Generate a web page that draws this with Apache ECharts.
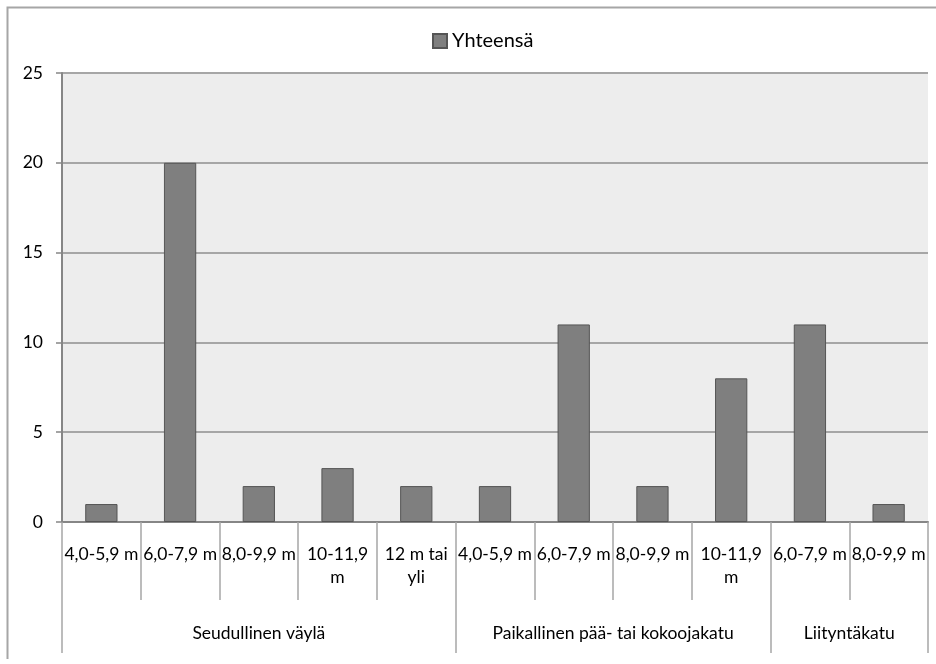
<!DOCTYPE html>
<html>
<head>
<meta charset="utf-8">
<script src="https://cdn.jsdelivr.net/npm/echarts@6/dist/echarts.min.js"></script>
<style>
  html, body { margin: 0; padding: 0; background: #fff; }
  #chart { width: 936px; height: 664px; }
</style>
</head>
<body>
<div id="chart"></div>
<script>
// Road width classes (inner axis level) and their road-type groups (outer level)
const categories = [
  '4,0-5,9 m', '6,0-7,9 m', '8,0-9,9 m', '10-11,9\nm', '12 m tai\nyli',
  '4,0-5,9 m', '6,0-7,9 m', '8,0-9,9 m', '10-11,9\nm',
  '6,0-7,9 m', '8,0-9,9 m'
];
const groupNames = ['Seudullinen väylä', 'Paikallinen pää- tai kokoojakatu', 'Liityntäkatu'];
const groupSizes = [5, 4, 2];
const seriesName = 'Yhteensä';
const values = [1, 20, 2, 3, 2, 2, 11, 2, 8, 11, 1];
const yTicks = [0, 5, 10, 15, 20, 25];

// Group boundaries and centres along a 0..N value scale that spans the category band
const groupBounds = [0];
groupSizes.forEach(n => groupBounds.push(groupBounds[groupBounds.length - 1] + n));
const groupCenters = groupSizes.map((n, i) => groupBounds[i] + n / 2);

const font = 'Lato, "Open Sans", sans-serif';
const labelSize = 17.5;
const chart = echarts.init(document.getElementById('chart'));

chart.setOption({
  animation: false,
  backgroundColor: '#ffffff',
  textStyle: { fontFamily: font },
  graphic: [{
    type: 'polyline',
    silent: true,
    shape: { points: [[7.5, 659], [7.5, 7.5], [936, 7.5]] },
    style: { stroke: '#a6a6a6', lineWidth: 2, fill: null }
  }],
  legend: {
    data: [seriesName],
    left: 427,
    top: 25,
    icon: 'rect',
    itemWidth: 14,
    itemHeight: 14,
    itemGap: 10,
    textStyle: { fontFamily: font, fontSize: 20, lineHeight: 22, color: '#000', padding: [0, 0, 0, 0] }
  },
  grid: {
    left: 62,
    right: 8,
    top: 73,
    bottom: 142,
    show: true,
    backgroundColor: '#ededed',
    borderWidth: 0
  },
  xAxis: [{
    type: 'category',
    data: categories,
    position: 'bottom',
    axisLine: { onZero: false, lineStyle: { color: '#868686', width: 2 } },
    axisTick: { show: true, length: 78, lineStyle: { color: '#a6a6a6', width: 1.5 } },
    axisLabel: {
      interval: 0,
      margin: 21,
      fontSize: labelSize,
      lineHeight: 23,
      color: '#000',
      fontFamily: font
    },
    splitLine: { show: false }
  }, {
    type: 'value',
    min: 0,
    max: groupBounds[groupBounds.length - 1],
    position: 'bottom',
    axisLine: { show: false, onZero: false },
    splitLine: { show: false },
    axisTick: {
      show: true,
      customValues: groupBounds,
      length: 131,
      lineStyle: { color: '#a6a6a6', width: 1.5 }
    },
    axisLabel: {
      customValues: groupCenters,
      margin: 100,
      fontSize: labelSize,
      lineHeight: 23,
      color: '#000',
      fontFamily: font,
      formatter: v => groupNames[groupCenters.indexOf(v)] || ''
    }
  }],
  yAxis: {
    type: 'value',
    min: yTicks[0],
    max: yTicks[yTicks.length - 1],
    interval: 5,
    axisLine: { show: true, onZero: false, lineStyle: { color: '#868686', width: 2 } },
    axisTick: { show: true, length: 6, lineStyle: { color: '#868686', width: 1.5 } },
    axisLabel: { margin: 19, fontSize: labelSize, color: '#000', fontFamily: font },
    splitLine: { show: true, lineStyle: { color: '#a6a6a6', width: 2 } }
  },
  series: [{
    name: seriesName,
    type: 'bar',
    xAxisIndex: 0,
    yAxisIndex: 0,
    data: values,
    barWidth: '41%',
    itemStyle: { color: '#7f7f7f', borderColor: '#555555', borderWidth: 1 }
  }]
});
</script>
</body>
</html>
